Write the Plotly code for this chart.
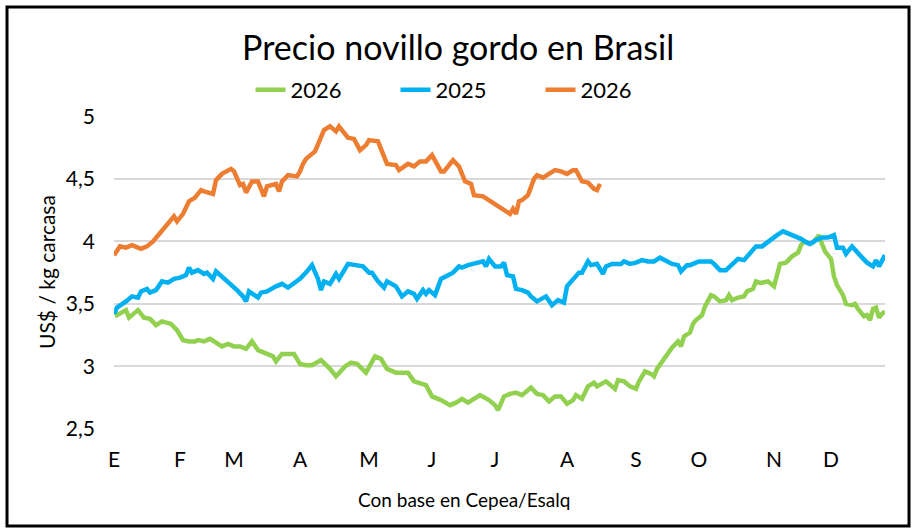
import plotly.graph_objects as go

# -------------------------------------------------
# Datos (índice = día hábil desde el 1 de enero)
# -------------------------------------------------
meses = ["E", "F", "M", "A", "M", "J", "J", "A", "S", "O", "N", "D"]
meses_pos = [0, 22, 40, 62, 85, 106, 127, 151, 174, 195, 220, 239]

y_ticks = [2.5, 3, 3.5, 4, 4.5, 5]
y_ticktext = ["2,5", "3", "3,5", "4", "4,5", "5"]

# serie verde (2026)
verde_dia = [0, 1, 4, 5, 8, 10, 12, 14, 16, 19, 21, 23, 25, 27, 28, 30, 32, 34, 36, 38,
             40, 42, 44, 46, 48, 50, 53, 54, 56, 58, 60, 62, 64, 66, 68, 69, 72, 74, 77, 79,
             81, 84, 87, 89, 91, 94, 98, 100, 104, 106, 109, 112, 114, 116, 118, 122, 125, 127, 128, 130,
             132, 134, 136, 137, 139, 141, 143, 145, 147, 149, 151, 153, 154, 156, 158, 160, 161, 164, 165, 167,
             168, 170, 172, 174, 175, 177, 179, 180, 181, 183, 184, 186, 188, 189, 190, 192, 193, 194, 196, 197,
             199, 200, 202, 204, 205, 206, 208, 210, 211, 213, 214, 215, 216, 218, 220, 221, 222, 224, 226, 228,
             229, 230, 232, 233, 235, 236, 237, 239, 240, 241, 243, 244, 246, 247, 248, 250, 251, 252, 253, 254,
             255, 256, 257]
verde_val = [3.46, 3.41, 3.45, 3.39, 3.45, 3.39, 3.38, 3.33, 3.36, 3.34, 3.29, 3.21, 3.20, 3.20, 3.21, 3.20, 3.22, 3.19, 3.16, 3.18,
             3.16, 3.16, 3.14, 3.20, 3.13, 3.11, 3.08, 3.04, 3.10, 3.10, 3.10, 3.02, 3.01, 3.01, 3.04, 3.05, 2.98, 2.92, 3.00, 3.03,
             3.02, 2.95, 3.08, 3.06, 2.98, 2.95, 2.95, 2.88, 2.85, 2.76, 2.73, 2.69, 2.71, 2.74, 2.71, 2.77, 2.73, 2.69, 2.65, 2.76,
             2.78, 2.79, 2.77, 2.79, 2.83, 2.78, 2.77, 2.72, 2.76, 2.76, 2.70, 2.73, 2.77, 2.74, 2.84, 2.87, 2.84, 2.88, 2.86, 2.82,
             2.89, 2.88, 2.84, 2.82, 2.88, 2.96, 2.94, 2.92, 2.98, 3.05, 3.08, 3.15, 3.20, 3.16, 3.24, 3.27, 3.34, 3.37, 3.41, 3.48,
             3.57, 3.56, 3.52, 3.53, 3.57, 3.53, 3.55, 3.56, 3.60, 3.62, 3.68, 3.67, 3.67, 3.68, 3.64, 3.73, 3.82, 3.83, 3.88, 3.91,
             3.97, 4.00, 3.98, 3.99, 4.05, 3.98, 3.92, 3.86, 3.72, 3.65, 3.57, 3.50, 3.49, 3.50, 3.46, 3.40, 3.41, 3.37, 3.46, 3.47,
             3.39, 3.42, 3.44]

# serie azul (2025)
azul_dia = [0, 1, 4, 6, 8, 9, 11, 12, 14, 16, 18, 20, 22, 24, 25, 26, 28, 30, 31, 33,
            34, 36, 38, 39, 41, 43, 44, 45, 48, 49, 51, 54, 56, 58, 60, 62, 64, 66, 68, 69,
            70, 72, 74, 75, 78, 80, 83, 85, 86, 88, 90, 91, 94, 96, 98, 100, 101, 103, 104, 105,
            107, 109, 111, 113, 115, 116, 118, 120, 123, 124, 125, 127, 129, 130, 131, 133, 134, 136, 138, 139,
            141, 144, 146, 148, 150, 151, 153, 155, 156, 158, 159, 161, 163, 164, 166, 169, 170, 172, 174, 176,
            178, 180, 182, 184, 186, 188, 189, 191, 192, 194, 195, 197, 199, 200, 202, 204, 206, 208, 210, 212,
            214, 216, 218, 220, 221, 223, 225, 227, 229, 231, 232, 234, 236, 238, 240, 241, 243, 244, 246, 249,
            251, 253, 254, 255, 257]
azul_val = [3.42, 3.47, 3.52, 3.56, 3.55, 3.60, 3.62, 3.59, 3.61, 3.68, 3.67, 3.70, 3.71, 3.73, 3.79, 3.75, 3.77, 3.74, 3.75, 3.70,
            3.76, 3.72, 3.68, 3.66, 3.61, 3.56, 3.52, 3.60, 3.55, 3.59, 3.60, 3.64, 3.66, 3.63, 3.66, 3.70, 3.75, 3.81, 3.70, 3.61,
            3.68, 3.66, 3.74, 3.70, 3.82, 3.81, 3.80, 3.75, 3.75, 3.68, 3.63, 3.68, 3.64, 3.56, 3.60, 3.58, 3.54, 3.61, 3.58, 3.61,
            3.57, 3.70, 3.73, 3.75, 3.80, 3.79, 3.81, 3.82, 3.84, 3.80, 3.86, 3.80, 3.80, 3.83, 3.73, 3.72, 3.62, 3.61, 3.59, 3.56,
            3.52, 3.56, 3.49, 3.53, 3.51, 3.64, 3.70, 3.75, 3.75, 3.84, 3.81, 3.82, 3.74, 3.80, 3.82, 3.82, 3.84, 3.82, 3.83, 3.85,
            3.84, 3.84, 3.87, 3.84, 3.82, 3.81, 3.76, 3.81, 3.81, 3.83, 3.84, 3.84, 3.84, 3.82, 3.77, 3.77, 3.82, 3.86, 3.85, 3.90,
            3.96, 3.96, 4.00, 4.04, 4.05, 4.08, 4.06, 4.04, 4.02, 3.99, 3.98, 4.01, 4.03, 4.03, 4.05, 3.95, 3.95, 3.90, 3.96, 3.88,
            3.83, 3.80, 3.85, 3.80, 3.89]

# serie naranja (2026)
naranja_dia = [0, 2, 4, 6, 9, 11, 13, 15, 16, 18, 20, 21, 23, 25, 27, 29, 30, 33, 34, 36,
               39, 40, 42, 43, 44, 46, 48, 50, 51, 54, 55, 56, 58, 61, 62, 63, 64, 67, 69, 70,
               72, 74, 75, 78, 80, 82, 84, 85, 88, 90, 91, 94, 95, 98, 100, 102, 104, 106, 109, 110,
               113, 115, 117, 119, 120, 123, 125, 127, 129, 131, 132, 133, 134, 135, 136, 138, 140, 141, 143, 145,
               147, 149, 151, 153, 154, 156, 158, 160, 161, 162]
naranja_val = [3.89, 3.96, 3.95, 3.97, 3.94, 3.96, 4.00, 4.06, 4.08, 4.14, 4.20, 4.16, 4.22, 4.32, 4.35, 4.41, 4.40, 4.38, 4.49, 4.54,
               4.58, 4.56, 4.45, 4.46, 4.39, 4.48, 4.48, 4.36, 4.44, 4.46, 4.40, 4.48, 4.53, 4.52, 4.56, 4.62, 4.66, 4.72, 4.82, 4.89,
               4.92, 4.88, 4.92, 4.83, 4.82, 4.73, 4.77, 4.81, 4.80, 4.68, 4.62, 4.61, 4.57, 4.62, 4.60, 4.64, 4.64, 4.69, 4.56, 4.56,
               4.65, 4.60, 4.48, 4.46, 4.37, 4.36, 4.33, 4.29, 4.26, 4.24, 4.22, 4.26, 4.22, 4.32, 4.33, 4.37, 4.50, 4.53, 4.51, 4.54,
               4.57, 4.56, 4.54, 4.57, 4.57, 4.48, 4.47, 4.42, 4.41, 4.46]

# -------------------------------------------------
# Figura
# -------------------------------------------------
FUENTE = "Lato"
W, H = 920, 532
ML, MR, MT, MB = 114, 35, 116, 103


def px_x(p):
    # pixel horizontal de la página -> coordenada "paper"
    return (p - ML) / (W - ML - MR)


def px_y(p):
    return (H - MB - p) / (H - MT - MB)


fig = go.Figure()
fig.add_trace(go.Scatter(x=verde_dia, y=verde_val, name="2026", mode="lines",
                         line=dict(color="#92d050", width=4.5)))
fig.add_trace(go.Scatter(x=azul_dia, y=azul_val, name="2025", mode="lines",
                         line=dict(color="#00b0f0", width=4.5)))
fig.add_trace(go.Scatter(x=naranja_dia, y=naranja_val, name="2026 ", mode="lines",
                         line=dict(color="#ed7d31", width=4.5)))

fig.update_layout(
    width=W,
    height=H,
    margin=dict(l=ML, r=MR, t=MT, b=MB, autoexpand=False),
    paper_bgcolor="white",
    plot_bgcolor="white",
    font=dict(family=FUENTE, color="#000000"),
    title=dict(text="Precio novillo gordo en Brasil", x=0.498, xanchor="center",
               y=1 - 48 / H, yanchor="middle", font=dict(size=34, color="#000000")),
    showlegend=True,
    legend=dict(orientation="h", xref="paper", x=px_x(468), xanchor="center",
                yref="paper", y=px_y(90), yanchor="middle",
                font=dict(size=22), itemwidth=30, entrywidth=100,
                bgcolor="rgba(0,0,0,0)"),
    hovermode=False,
)

fig.update_xaxes(
    range=[0, 257],
    tickmode="array",
    tickvals=meses_pos,
    ticktext=meses,
    showgrid=False,
    zeroline=False,
    showline=False,
    ticks="",
    ticklabelstandoff=16,
    tickfont=dict(size=21),
    automargin=False,
)

fig.update_yaxes(
    range=[2.499, 5.003],
    tickmode="array",
    tickvals=y_ticks,
    ticktext=y_ticktext,
    showgrid=True,
    gridcolor="#d9d9d9",
    gridwidth=2,
    zeroline=False,
    showline=False,
    ticks="",
    ticklabelstandoff=18,
    tickfont=dict(size=21),
    automargin=False,
)

# títulos de ejes como anotaciones para ubicarlos igual que el original
fig.add_annotation(text="Con base en Cepea/Esalq", xref="paper", yref="paper",
                   x=px_x(464), y=px_y(499), showarrow=False,
                   xanchor="center", yanchor="middle", font=dict(size=19))
fig.add_annotation(text="US$ / kg carcasa", xref="paper", yref="paper",
                   x=px_x(46), y=px_y(272), showarrow=False, textangle=-90,
                   xanchor="center", yanchor="middle", font=dict(size=21))

# marco negro del gráfico
fig.add_shape(type="rect", xref="paper", yref="paper",
              x0=px_x(7), x1=px_x(909), y0=px_y(526), y1=px_y(7),
              line=dict(color="black", width=3), fillcolor="rgba(0,0,0,0)")

fig.write_html("out.html", config={"displayModeBar": False},
               post_script="document.body.style.margin='0';")
